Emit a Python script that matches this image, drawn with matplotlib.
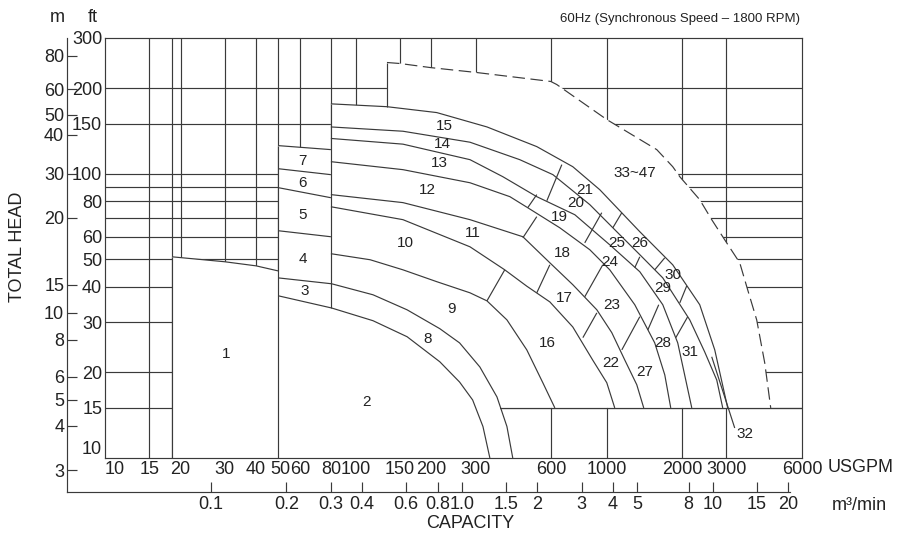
import matplotlib.pyplot as plt
from matplotlib.patches import Polygon
from matplotlib.ticker import NullLocator

plt.rcParams['font.family'] = ['Liberation Sans', 'DejaVu Sans']
plt.rcParams['lines.scale_dashes'] = False

INK = '#3a3a3a'
LW = 0.85

# axis ticks
gpm_ticks = [10, 15, 20, 30, 40, 50, 60, 80, 100, 150, 200, 300, 600, 1000, 2000, 3000, 6000]
ft_ticks = [10, 15, 20, 30, 40, 50, 60, 80, 100, 150, 200, 300]
m_labels = ['80', '60', '50', '40', '30', '20', '15', '10', '8', '6', '5', '4', '3']
m_tick_ft = [260, 198, 161, 137, 100, 70, 40.6, 32.4, 26, 19.3, 16, 13, 9.07]
cmm_ticks = [0.1, 0.2, 0.3, 0.4, 0.6, 0.8, 1.0, 1.5, 2, 3, 4, 5, 8, 10, 15, 20]
cmm_labels = ['0.1', '0.2', '0.3', '0.4', '0.6', '0.8', '1.0', '1.5', '2', '3', '4', '5', '8', '10', '15', '20']

grid_gpm = [15, 18.5, 20, 30, 40, 49, 60, 79.5, 100, 150, 200, 300, 600, 1000, 2000, 3000]
grid_ft = [15, 20, 30, 40, 50, 60, 70, 80, 90, 100, 150, 200]

# pump range outlines (USGPM, ft)
region1_top = [(18.5, 51.0), (30, 49.0), (40, 47.4), (49, 45.5)]
column_lines = [
    [(49, 125.5), (79.5, 121.5)],
    [(49, 104.1), (79.5, 99.2)],
    [(49, 89.3), (79.5, 82.3)],
    [(49, 63.0), (79.5, 60.0)],
]
curve_a = [(49, 37.2), (80, 33.7), (117, 30.4), (160, 26.7), (216, 21.8), (259, 18.5),
           (292, 16.0), (321, 12.9), (342, 10)]
curve_b = [(49, 43.0), (80, 41.0), (117, 37.5), (160, 33.2), (216, 28.5), (259, 25.4),
           (312, 20.9), (365, 16.4), (400, 12.9), (422, 10)]
curve_c = [(79.5, 52.3), (114, 49.8), (154, 45.9), (210, 41.7), (285, 38.1), (333, 35.7),
           (400, 30.6), (480, 24.0), (556, 18.4), (621, 15)]
curve_d = [(79.5, 76.5), (154, 68.9), (285, 55.3), (392, 45.9), (480, 40.2), (593, 35.4),
           (732, 28.9), (879, 22.1), (1000, 18.4), (1076, 15)]
curve_e = [(79.5, 84.4), (154, 79.1), (285, 68.9), (463, 60.0), (593, 48.6), (732, 40.7),
           (913, 33.2), (1047, 27.6), (1180, 22.1), (1317, 18.1), (1404, 15)]
curve_f = [(79.5, 110.2), (154, 103.3), (285, 92.9), (411, 83.0), (484, 75.9), (650, 64.5),
           (856, 54.0), (1028, 45.9), (1293, 34.6), (1553, 25.4), (1703, 19.6), (1799, 15)]
curve_g = [(79.5, 133), (154, 127), (285, 112), (385, 97.6), (526, 83.0), (746, 71.7),
           (1028, 56.2), (1354, 45.2), (1672, 34.6), (1918, 25.4), (2182, 15)]
curve_h = [(79.5, 146), (154, 141), (285, 129), (450, 112), (610, 99.2), (856, 77.8),
           (1096, 62.5), (1354, 51.9), (1672, 43.0), (2142, 30.6), (2457, 23.6),
           (2744, 18.8), (2899, 15)]
curve_i = [(79.5, 176), (133, 172), (210, 164), (333, 146), (526, 124.5), (732, 105.8),
           (938, 87.8), (1354, 62.5), (1832, 47.8), (2347, 34.6), (2694, 24.0), (3034, 15)]
dividers = [
    [(333, 35.7), (392, 45.9)],
    [(526, 38.1), (593, 47.8)],
    [(463, 59.5), (526, 70.6)],
    [(484, 75.9), (526, 84.4)],
    [(577, 80.3), (662, 107.6)],
    [(803, 26.5), (913, 32.4)],
    [(817, 36.9), (964, 47.8)],
    [(817, 57.1), (955, 72.9)],
    [(1057, 64.5), (1148, 72.9)],
    [(1148, 24.0), (1354, 31.4)],
    [(1457, 28.2), (1611, 34.6)],
    [(1293, 46.7), (1354, 51.0)],
    [(1553, 45.9), (1703, 50.6)],
    [(1884, 26.5), (2102, 31.4)],
    [(1954, 35.1), (2083, 40.3)],
]
pointer_32 = [(2620, 22.7), (3236, 12.75)]
envelope = [(133, 246), (150, 244), (199, 236), (301, 227), (598, 211), (632, 205.8),
            (1000, 155), (1582, 121.5), (1832, 105.8), (1954, 97.6), (2347, 81.0),
            (2620, 68.9), (3006, 57.1), (3388, 48.6), (3646, 39.0), (3959, 30.6),
            (4262, 21.6), (4503, 15)]
bottom_start_gpm = 375

model_labels = ['1', '2', '3', '4', '5', '6', '7', '8', '9', '10', '11', '12', '13', '14',
                '15', '16', '17', '18', '19', '20', '21', '22', '23', '24', '25', '26',
                '27', '28', '29', '30', '31', '32', '33~47']
model_gpm = [30.3, 110.6, 62.6, 61.5, 61.5, 61.5, 61.5, 193.6, 241, 158, 292, 192, 216,
             222, 226, 582, 680, 668, 650, 752, 817, 1037, 1047, 1028, 1096, 1354, 1417,
             1672, 1672, 1832, 2142, 3546, 1293]
model_ft = [23.2, 15.7, 38.7, 50.2, 71.7, 92.9, 111.1, 26.2, 33.5, 57.1, 62.0, 87.8, 109.3,
            127, 147.6, 25.4, 36.6, 52.7, 70.6, 79.1, 87.8, 21.6, 34.6, 49.0, 57.1, 57.1,
            20.1, 25.4, 39.7, 44.1, 23.6, 12.1, 100.8]

W, H = 902, 536
fig = plt.figure(figsize=(W / 100, H / 100), dpi=100)
ax = fig.add_axes([105 / W, 78 / H, 697 / W, 420 / H])
ax.set_xscale('log')
ax.set_yscale('log')
ax.set_xlim(10, 6000)
ax.set_ylim(10, 300)
for s in ax.spines.values():
    s.set_color(INK)
    s.set_linewidth(LW)

for g in grid_gpm:
    ax.axvline(g, color=INK, lw=LW, zorder=1)
for g in grid_ft:
    ax.axhline(g, color=INK, lw=LW, zorder=1)


def xs(pts):
    return [p[0] for p in pts]


def ys(pts):
    return [p[1] for p in pts]


# white area covered by pump ranges
cover = ([(18.5, 10)] + region1_top + [(49, 125.5), (79.5, 121.5)] + curve_i[:2]
         + envelope + [(bottom_start_gpm, 15)] + curve_b[-2:])
ax.add_patch(Polygon(cover, closed=True, facecolor='white', edgecolor='none', zorder=2))

solid = [region1_top, [(18.5, 10), (18.5, 51.0)], [(49, 10), (49, 125.5)],
         [(79.5, 33.7), (79.5, 176)], [(133, 172), (133, 246)],
         [(bottom_start_gpm, 15), (6000, 15)], pointer_32]
solid += column_lines + dividers
solid += [curve_a, curve_b, curve_c, curve_d, curve_e, curve_f, curve_g, curve_h, curve_i]
for line in solid:
    ax.plot(xs(line), ys(line), color=INK, lw=LW, zorder=3, solid_capstyle='butt')
ax.plot(xs(envelope), ys(envelope), color=INK, lw=LW, zorder=3, linestyle=(0, (9, 4)))

for lab, q, h in zip(model_labels, model_gpm, model_ft):
    ax.text(q, h, lab, ha='center', va='center', fontsize=11, color='#222222', zorder=4)

ax.set_xticks(gpm_ticks, labels=[str(v) for v in gpm_ticks])
ax.set_yticks(ft_ticks, labels=[str(v) for v in ft_ticks])
ax.xaxis.set_minor_locator(NullLocator())
ax.yaxis.set_minor_locator(NullLocator())
ax.tick_params(length=0, labelsize=13, colors='#222222')
ax.tick_params(axis='x', pad=2)
ax.tick_params(axis='y', pad=2)
ax.get_xticklabels()[0].set_ha('left')
ax.get_yticklabels()[0].set_va('bottom')

# metre scale on the left
ax_m = fig.add_axes([67 / W, 44 / H, 0.0001, 454 / H])
ax_m.set_yscale('log')
ax_m.set_ylim(7.59, 300)
ax_m.set_yticks(m_tick_ft, labels=m_labels)
ax_m.yaxis.set_minor_locator(NullLocator())
ax_m.set_xticks([])
for k, s in ax_m.spines.items():
    s.set_visible(k == 'left')
    s.set_color(INK)
    s.set_linewidth(LW)
ax_m.tick_params(axis='y', direction='in', length=7.2, width=LW, color=INK, pad=2,
                 labelsize=13, labelcolor='#222222')
ax_m.patch.set_visible(False)

# m3/min scale at the bottom
ax_q = fig.add_axes([67 / W, 44 / H, 722.5 / W, 0.0001])
ax_q.set_xscale('log')
ax_q.set_xlim(0.026717, 20.2)
ax_q.set_xticks(cmm_ticks, labels=cmm_labels)
ax_q.xaxis.set_minor_locator(NullLocator())
ax_q.set_yticks([])
for k, s in ax_q.spines.items():
    s.set_visible(k == 'bottom')
    s.set_color(INK)
    s.set_linewidth(LW)
ax_q.tick_params(axis='x', direction='in', length=7.2, width=LW, color=INK, pad=3,
                 labelsize=13, labelcolor='#222222')
ax_q.patch.set_visible(False)

fig.text(57 / W, 1 - 17 / H, 'm', ha='center', va='center', fontsize=13, color='#222222')
fig.text(93 / W, 1 - 17 / H, 'ft', ha='center', va='center', fontsize=13, color='#222222')
fig.text(18 / W, 1 - 247 / H, 'TOTAL HEAD', rotation=90, ha='center', va='center',
         fontsize=13, color='#222222')
fig.text(828 / W, 1 - 468 / H, 'USGPM', ha='left', va='center', fontsize=13, color='#222222')
fig.text(832 / W, 1 - 505 / H, 'm³/min', ha='left', va='center', fontsize=13, color='#222222')
fig.text(470 / W, 1 - 524 / H, 'CAPACITY', ha='center', va='center', fontsize=13,
         color='#222222')
fig.text(800 / W, 1 - 19 / H, '60Hz (Synchronous Speed – 1800 RPM)', ha='right',
         va='center', fontsize=9.5, color='#222222')

fig.savefig('out.png', dpi=100)
